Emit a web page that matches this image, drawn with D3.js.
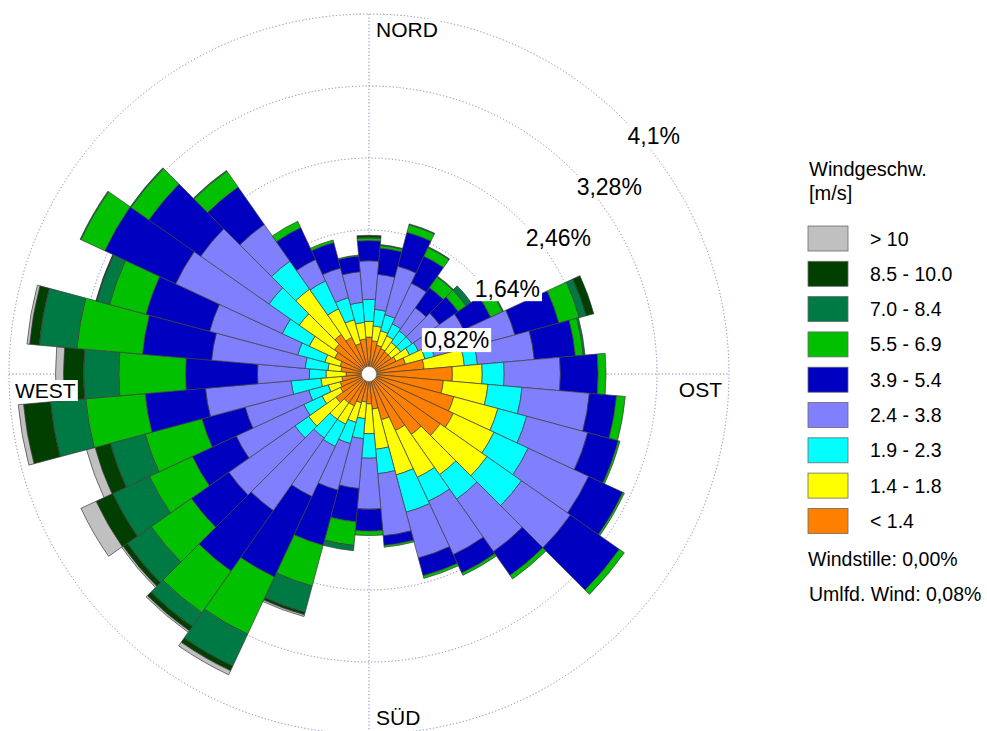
<!DOCTYPE html>
<html>
<head>
<meta charset="utf-8">
<script src="https://cdn.jsdelivr.net/npm/d3@7"></script>
<style>
  body { margin: 0; background: #fff; }
  text { font-family: "Liberation Sans", Arial, Helvetica, sans-serif; fill: #000; }
</style>
</head>
<body>
<svg id="chart" width="987" height="731"></svg>
<script>
// Wind directions (sector centres, degrees clockwise from north)
const directions = d3.range(0, 360, 10);

// Frequency (%) per direction for each wind-speed class
const speedBelow14 = [0.42,0.38,0.34,0.32,0.31,0.31,0.34,0.43,0.63,0.95,0.85,1.00,1.06,0.99,0.84,0.71,0.54,0.40,
                      0.34,0.32,0.34,0.40,0.40,0.46,0.36,0.34,0.31,0.26,0.32,0.34,0.43,0.48,0.55,0.46,0.36,0.40];
const speed14to18 = [0.18,0.17,0.17,0.16,0.13,0.13,0.17,0.23,0.46,0.34,0.51,0.52,0.51,0.65,0.56,0.59,0.65,0.46,
                     0.34,0.19,0.23,0.23,0.23,0.38,0.23,0.14,0.24,0.23,0.15,0.18,0.32,0.49,0.63,0.36,0.28,0.19];
const speed19to23 = [0.25,0.19,0.19,0.15,0.16,0.16,0.11,0.11,0.15,0.25,0.39,0.34,0.43,0.48,0.34,0.30,0.44,0.28,
                     0.28,0.23,0.25,0.28,0.26,0.19,0.23,0.23,0.34,0.19,0.26,0.32,0.34,0.42,0.39,0.35,0.26,0.23];
const speed24to38 = [0.44,0.40,0.57,0.51,0.32,0.38,0.57,0.95,0.65,0.64,0.77,0.72,0.76,0.68,0.73,0.67,0.54,0.71,
                     0.58,0.57,0.55,0.63,1.01,0.92,0.85,0.75,0.98,0.59,1.07,1.04,1.34,0.95,0.51,0.27,0.35,0.35];
const speed39to54 = [0.23,0.30,0.40,0.34,0.28,0.26,0.34,0.52,0.47,0.43,0.31,0.36,0.43,0.68,0.33,0.23,0.21,0.11,
                     0.25,0.38,0.65,1.01,0.84,0.52,0.55,0.51,0.69,0.82,0.79,0.75,0.89,0.72,0.52,0.40,0.30,0.18];
const speed55to69 = [0.03,0.03,0.09,0.11,0.15,0.11,0.15,0.24,0.09,0.09,0.10,0.02,0.02,0.07,0.05,0.03,0.03,0.02,
                     0.05,0.27,0.48,0.72,0.58,0.56,0.54,0.67,0.68,0.76,0.75,0.43,0.30,0.25,0.22,0.08,0.03,0.01];
const speed70to84 = [0.01,0.01,0.01,0.01,0.01,0.07,0.01,0.08,0.02,0,0,0,0,0,0,0,0,0,
                     0,0.06,0.31,0.40,0.19,0.33,0.46,0.41,0.40,0.40,0.43,0.15,0.01,0.01,0.01,0,0,0];
const speed85to100 = [0.02,0,0,0,0,0,0,0.09,0,0,0,0,0,0,0,0,0,0,
                      0,0,0.03,0.06,0.06,0.06,0.21,0.18,0.31,0.23,0.11,0.01,0,0,0,0,0,0];
const speedAbove10 = [0,0,0,0,0,0,0,0,0,0,0,0,0,0,0,0,0,0,
                      0,0,0.02,0.05,0.02,0.02,0.19,0.10,0.06,0.09,0.03,0,0,0,0,0,0,0];

const classSeries = [speedBelow14, speed14to18, speed19to23, speed24to38, speed39to54,
                     speed55to69, speed70to84, speed85to100, speedAbove10];
const classLabels = ["< 1.4", "1.4 - 1.8", "1.9 - 2.3", "2.4 - 3.8", "3.9 - 5.4",
                     "5.5 - 6.9", "7.0 - 8.4", "8.5 - 10.0", "> 10"];
const classColors = ["#ff8000", "#ffff00", "#00ffff", "#8080ff", "#0000c0",
                     "#00c000", "#007a45", "#003f00", "#c0c0c0"];

// Ring ticks and their labels
const ringTicks = [0.82, 1.64, 2.46, 3.28, 4.1];
const ringLabels = ["0,82%", "1,64%", "2,46%", "3,28%", "4,1%"];

const compass = [
  { text: "NORD", angle: 0 },
  { text: "OST", angle: 90 },
  { text: "SÜD", angle: 180 },
  { text: "WEST", angle: 270 }
];
const calmText = "Windstille: 0,00%";
const variableText = "Umlfd. Wind: 0,08%";

const svg = d3.select("#chart");
const cx = 369, cy = 374;
const rMax = 360;
const r = d3.scaleLinear().domain([0, 4.1]).range([0, rMax]);
const rad = d => d * Math.PI / 180;

const g = svg.append("g").attr("transform", `translate(${cx},${cy})`);
const gridColor = "#7f7fc4";

// grid circles
g.selectAll("circle.ring").data(ringTicks).join("circle")
  .attr("class", "ring")
  .attr("r", d => r(d))
  .attr("fill", "none")
  .attr("stroke", gridColor)
  .attr("stroke-width", 1)
  .attr("stroke-dasharray", "1.2,2.2");

// axis cross
g.append("line").attr("x1", 0).attr("x2", 0).attr("y1", -rMax).attr("y2", rMax)
  .attr("stroke", gridColor).attr("stroke-dasharray", "1.2,2.2");
g.append("line").attr("x1", -rMax).attr("x2", rMax).attr("y1", 0).attr("y2", 0)
  .attr("stroke", gridColor).attr("stroke-dasharray", "1.2,2.2");

// stacked sectors
const arc = d3.arc();
const cells = [];
directions.forEach((dir, i) => {
  let cum = 0;
  classSeries.forEach((series, k) => {
    const v = series[i];
    if (v > 0) {
      cells.push({
        innerRadius: r(cum),
        outerRadius: r(cum + v),
        startAngle: rad(dir - 5),
        endAngle: rad(dir + 5),
        color: classColors[k]
      });
    }
    cum += v;
  });
});

g.selectAll("path.cell").data(cells).join("path")
  .attr("class", "cell")
  .attr("d", d => arc(d))
  .attr("fill", d => d.color)
  .attr("stroke", "#3c3c3c")
  .attr("stroke-width", 0.7)
  .attr("stroke-linejoin", "miter");

// centre hole
g.append("circle").attr("r", 7.5).attr("fill", "#fff").attr("stroke", "#777").attr("stroke-width", 0.6);

// label with white backdrop
function boxedLabel(parent, x, y, text, size, anchor) {
  const grp = parent.append("g");
  const t = grp.append("text")
    .attr("x", x).attr("y", y)
    .attr("font-size", size)
    .attr("text-anchor", anchor || "start")
    .text(text);
  const bb = t.node().getBBox();
  grp.insert("rect", "text")
    .attr("x", bb.x - 2).attr("y", bb.y + 1)
    .attr("width", bb.width + 4).attr("height", bb.height - 2)
    .attr("fill", "#fff");
  return grp;
}

// ring labels along the 45° diagonal
ringTicks.forEach((t, i) => {
  const rr = r(t);
  const x = rr * Math.sin(rad(45)) + 4;
  const y = -rr * Math.cos(rad(45)) + 25;
  boxedLabel(g, x, y, ringLabels[i], 23, "start");
});

// compass labels
boxedLabel(g, 7, -rMax + 23, compass[0].text, 21, "start");
boxedLabel(g, rMax - 7, 23, compass[1].text, 21, "end");
boxedLabel(g, 7, rMax - 9, compass[2].text, 21, "start");
boxedLabel(g, -rMax + 6, 24, compass[3].text, 21, "start");

// legend
const lg = svg.append("g").attr("transform", "translate(808,0)");
lg.append("text").attr("x", 1).attr("y", 176).attr("font-size", 20).text("Windgeschw.");
lg.append("text").attr("x", 1).attr("y", 200).attr("font-size", 20).text("[m/s]");

const legendItems = classLabels.map((l, k) => ({ label: l, color: classColors[k] })).reverse();
const ly = d3.scaleBand().domain(legendItems.map(d => d.label)).range([226, 226 + 35.3 * 9]);

const item = lg.selectAll("g.item").data(legendItems).join("g")
  .attr("class", "item")
  .attr("transform", d => `translate(0,${ly(d.label)})`);
item.append("rect")
  .attr("width", 40).attr("height", 25)
  .attr("fill", d => d.color)
  .attr("stroke", "#6a6a6a").attr("stroke-width", 0.8);
item.append("text")
  .attr("x", 62).attr("y", 19.5)
  .attr("font-size", 19.5)
  .text(d => d.label);

lg.append("text").attr("x", 0).attr("y", 566).attr("font-size", 19.5).text(calmText);
lg.append("text").attr("x", 1).attr("y", 601).attr("font-size", 19.5).text(variableText);
</script>
</body>
</html>
